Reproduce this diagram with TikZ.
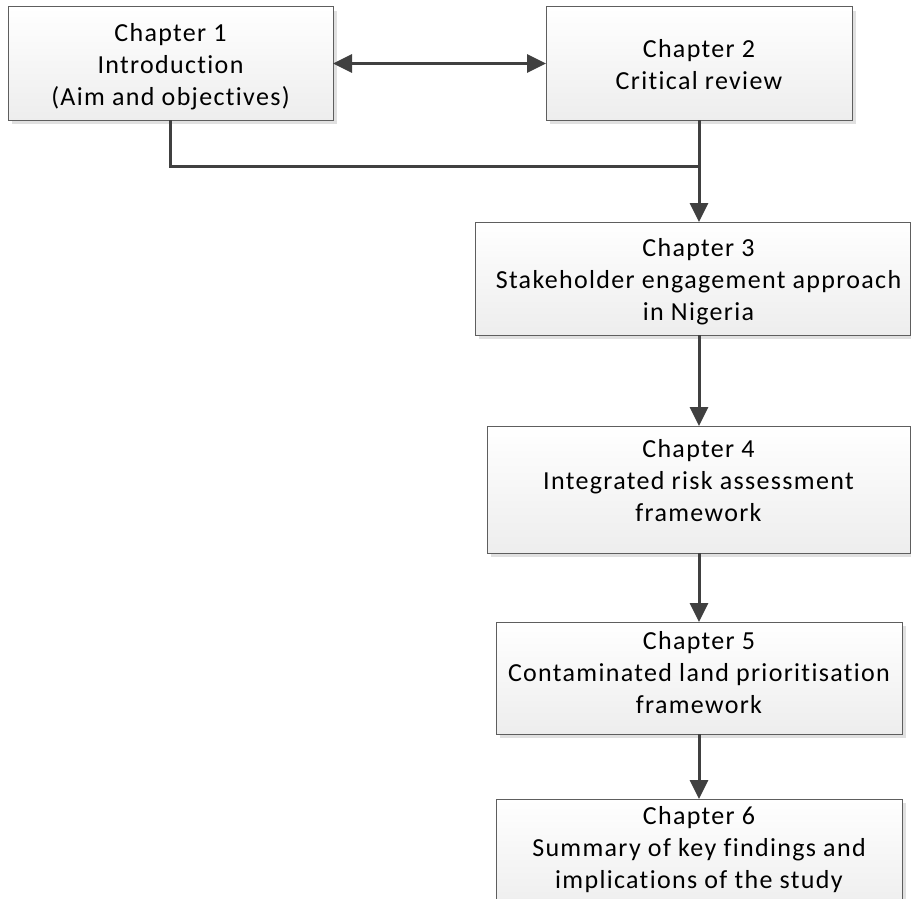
\documentclass[tikz,border=0pt]{standalone}
\usepackage{fontspec}
\setmainfont[Ligatures=NoCommon, LetterSpace=5.1]{Carlito}
\usetikzlibrary{arrows.meta,shadows}
\definecolor{edge}{HTML}{5E5E5E}
\definecolor{wire}{HTML}{404040}
\begin{document}
\begin{tikzpicture}[x=1pt,y=-1pt,
  chbox/.style={draw=edge, line width=1pt, top color=white, bottom color=black!7,
    general shadow={fill=black!12, shadow xshift=4pt, shadow yshift=-4pt},
    inner sep=0pt, outer sep=0pt},
  chtext/.style={align=center, font=\fontsize{26}{32}\selectfont, inner sep=0pt},
  wireline/.style={draw=wire, line width=3pt},
  link/.style={wireline, -{Triangle[length=19pt,width=18pt]}},
  twoway/.style={wireline, {Triangle[length=19pt,width=18pt]}-{Triangle[length=19pt,width=18pt]}},
]
\useasboundingbox (0,0) rectangle (911,899);
\clip (0,0) rectangle (911,899);

% chapter boxes
\node[chbox, minimum width=325pt, minimum height=113pt] (b1) at (170.5,63.5) {};
\node[chbox, minimum width=306pt, minimum height=113pt] (b2) at (699,63.5) {};
\node[chbox, minimum width=435pt, minimum height=113pt] (b3) at (692.5,278.5) {};
\node[chbox, minimum width=423pt, minimum height=127pt] (b4) at (698.5,489.5) {};
\node[chbox, minimum width=406pt, minimum height=112pt] (b5) at (699,678) {};
\node[chbox, minimum width=406pt, minimum height=114pt] (b6) at (699,856) {};

% chapter titles
\node[chtext] (t1) at (170.5,66.5) {Chapter 1\\Introduction\\(Aim and objectives)};
\node[chtext] (t2) at (699,65) {Chapter 2\\Critical review};
\node[chtext] (t3) at (698.5,281.5) {Chapter 3\\Stakeholder engagement approach\\in Nigeria};
\node[chtext] (t4) at (698.5,481) {Chapter 4\\Integrated risk assessment\\framework};
\node[chtext] (t5) at (699,673) {Chapter 5\\Contaminated land prioritisation\\framework};
\node[chtext] (t6) at (699,850) {Chapter 6\\Summary of key findings and\\implications of the study};

% connectors
\coordinate (spine) at (b2.south |- 0,166);
\draw[twoway] (b1.east) -- (b2.west);
\draw[wireline] (b1.south) -- (b1.south |- spine) -- (spine);
\draw[link] (b2.south) -- (b3.north -| spine);
\draw[link] (b3.south -| spine) -- (b4.north -| spine);
\draw[link] (b4.south -| spine) -- (b5.north -| spine);
\draw[link] (b5.south -| spine) -- (b6.north -| spine);
\end{tikzpicture}
\end{document}
